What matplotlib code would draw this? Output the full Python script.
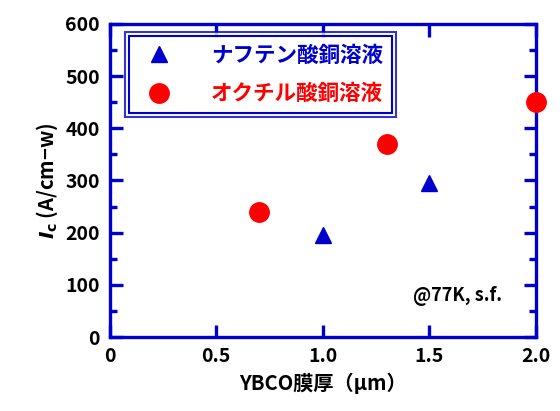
import matplotlib
matplotlib.use("Agg")
import matplotlib.pyplot as plt
from matplotlib.patches import Rectangle
from matplotlib.ticker import MultipleLocator

plt.rcParams["font.family"] = ["Noto Sans CJK JP", "DejaVu Sans"]
plt.rcParams["font.weight"] = "bold"

# data
naph_x = [1.0, 1.5]
naph_y = [195, 295]
oct_x = [0.7, 1.3, 2.0]
oct_y = [240, 370, 450]
xticks = [0, 0.5, 1.0, 1.5, 2.0]
xticklabels = ["0", "0.5", "1.0", "1.5", "2.0"]

BLUE = "#0000cc"
fig = plt.figure(figsize=(5.6, 4.11), dpi=100)
ax = fig.add_axes([0.196, 0.18, 0.761, 0.762])

ax.plot(naph_x, naph_y, "^", color=BLUE, ms=12, ls="none",
        label="ナフテン酸銅溶液", clip_on=False, zorder=5)
ax.plot(oct_x, oct_y, "o", color="#ff0000", ms=14, ls="none",
        label="オクチル酸銅溶液", clip_on=False, zorder=5)

ax.set_xlim(0, 2.0)
ax.set_ylim(0, 600)
ax.set_xticks(xticks)
ax.set_xticklabels(xticklabels)
ax.yaxis.set_major_locator(MultipleLocator(100))
ax.yaxis.set_minor_locator(MultipleLocator(50))
for s in ax.spines.values():
    s.set_color(BLUE)
    s.set_linewidth(2.4)
ax.tick_params(which="both", direction="in", color=BLUE, width=2.4,
               top=True, right=True, labelsize=14, pad=7)
ax.tick_params(which="major", length=9)
ax.tick_params(which="minor", length=5)
for lab in ax.get_xticklabels() + ax.get_yticklabels():
    lab.set_fontweight("bold")

ax.set_xlabel("YBCO膜厚（μm）", fontsize=14.5, fontweight="bold", labelpad=5)
ax.set_ylabel(r"$I_{\rm c}$ (A/cm−w)", fontsize=14.5, fontweight="bold", labelpad=4)

ax.text(0.92, 0.13, "@77K, s.f.", transform=ax.transAxes, ha="right",
        va="center", fontsize=13, fontweight="bold")

leg = ax.legend(loc="upper left", bbox_to_anchor=(0.035, 0.974), fontsize=15.5,
                frameon=True, fancybox=False, edgecolor=BLUE,
                borderpad=0.6, labelspacing=0.8, handletextpad=1.4,
                handlelength=2.0, borderaxespad=0)
leg.get_frame().set_linewidth(1.5)
for t, c in zip(leg.get_texts(), [BLUE, "#ff0000"]):
    t.set_color(c)
    t.set_fontweight("bold")

fig.canvas.draw()
bb = leg.get_frame().get_window_extent()
inset = 4
fig.patches.append(Rectangle((bb.x0 + inset, bb.y0 + inset),
                             bb.width - 2 * inset, bb.height - 2 * inset,
                             fill=False, ec=BLUE, lw=1.5,
                             transform=None, figure=fig, zorder=10))

fig.savefig("out.png", dpi=100, facecolor="white")
